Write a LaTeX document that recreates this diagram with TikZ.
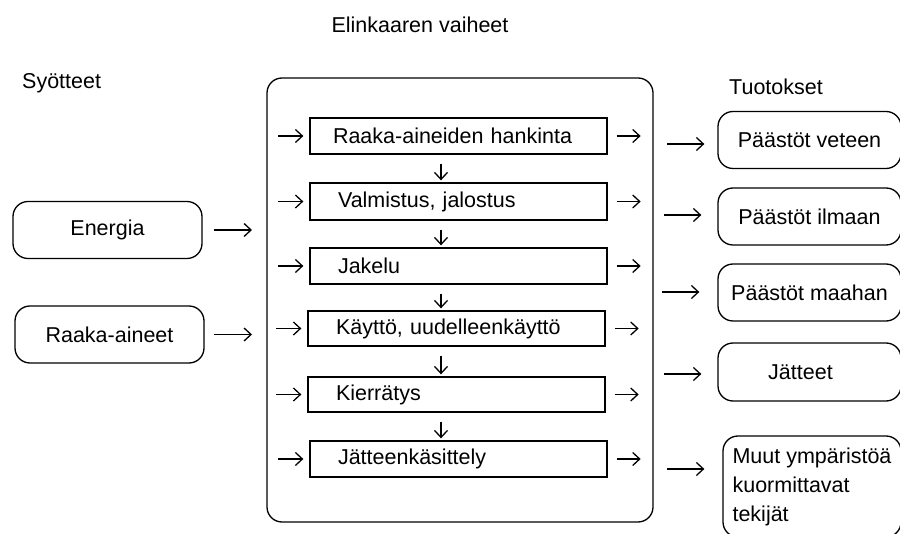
\documentclass[tikz,border=0pt]{standalone}
\usepackage{fontspec}
\setmainfont{Liberation Sans}
\usetikzlibrary{arrows.meta}
\begin{document}
\begin{tikzpicture}[x=1pt,y=-1pt,
  every node/.style={font=\fontsize{21.5}{29}\selectfont},
  lw/.style={line width=1.3pt},
  arr/.style={lw,-{Straight Barb[length=7pt,width=13pt,line width=1.3pt]}},
  stage/.style={draw,lw,minimum width=297pt,text width=241pt,inner xsep=28pt,align=left,inner ysep=0pt},
  rbox/.style={draw,lw,rounded corners=15pt,inner sep=0pt},
  outbox/.style={rbox,minimum width=183pt,minimum height=57pt},
  inbox/.style={rbox,minimum width=189pt,minimum height=57pt},
  title/.style={inner sep=0pt}]
\useasboundingbox (0,0) rectangle (900,534);
% titles
\node[title] (t1) at (420,25) {Elinkaaren vaiheet};
\node[title,anchor=west] (t2) at (22,83) {Syötteet};
\node[title,anchor=west] (t3) at (729,87) {Tuotokset};
% big box
\node[rbox,minimum width=386pt,minimum height=444pt] (main) at (460,300) {};
% stages
\node[stage,minimum height=36pt] (s1) at (458.5,136) {\hspace*{-5pt}Raaka-aineiden hankinta};
\node[stage,minimum height=37pt] (s2) at (458.5,201.5) {Valmistus, jalostus};
\node[stage,minimum height=36pt] (s3) at (458.5,266) {\raisebox{-4pt}{Jakelu}};
\node[stage,minimum height=35pt] (s4) at (456.5,328.5) {Käyttö, uudelleenkäyttö};
\node[stage,minimum height=35pt] (s5) at (456.5,394.5) {Kierrätys};
\node[stage,minimum height=36pt] (s6) at (458.5,459) {Jätteenkäsittely};
% down arrows
\coordinate (dx) at (441,0);
\foreach \a/\b in {s1/s2,s2/s3,s3/s4,s4/s5,s5/s6}
  \draw[arr,shorten <=9pt,shorten >=2pt] (\a.south -| dx) -- (\b.north -| dx);
% side arrows of stages
\foreach \s in {s1,s2,s3,s4,s5,s6}{
  \coordinate (\s o) at ([xshift=33pt]\s.east);
  \coordinate (\s i) at ([xshift=-31pt]\s.west);
  \draw[arr,shorten >=6pt] (\s i) -- (\s.west);
  \draw[arr,shorten <=9pt] (\s.east) -- (\s o);
}
% inputs
\node[inbox] (en) at (107.5,230) {Energia};
\node[inbox] (ra) at (109.5,334.5) {Raaka-aineet};
\coordinate (enx) at (252,230);
\coordinate (rax) at (252,334.5);
\draw[arr,shorten <=11pt] (en.east) -- (enx);
\draw[arr,shorten <=9pt] (ra.east) -- (rax);
% outputs
\node[outbox] (o1) at (809.5,140) {Päästöt veteen};
\node[outbox] (o2) at (809.5,216.5) {Päästöt ilmaan};
\node[outbox] (o3) at (809.5,292.5) {Päästöt maahan};
\node[outbox,minimum height=58pt] (o4) at (809.5,372) {Jätteet\hspace*{18pt}};
\node[rbox,minimum width=178pt,minimum height=101pt,align=left] (o5) at (812,486.5) {Muut ympäristöä\\kuormittavat\\tekijät\hspace*{70pt}};
\coordinate (p1) at (667,144);
\coordinate (p2) at (664,215);
\coordinate (p3) at (662,292);
\coordinate (p4) at (664,374);
\coordinate (p5) at (667,469);
\draw[arr,shorten >=13pt] (p1) -- (p1 -| o1.west);
\draw[arr,shorten >=16pt] (p2) -- (p2 -| o2.west);
\draw[arr,shorten >=18pt] (p3) -- (p3 -| o3.west);
\draw[arr,shorten >=16pt] (p4) -- (p4 -| o4.west);
\draw[arr,shorten >=18pt] (p5) -- (p5 -| o5.west);
\end{tikzpicture}
\end{document}
